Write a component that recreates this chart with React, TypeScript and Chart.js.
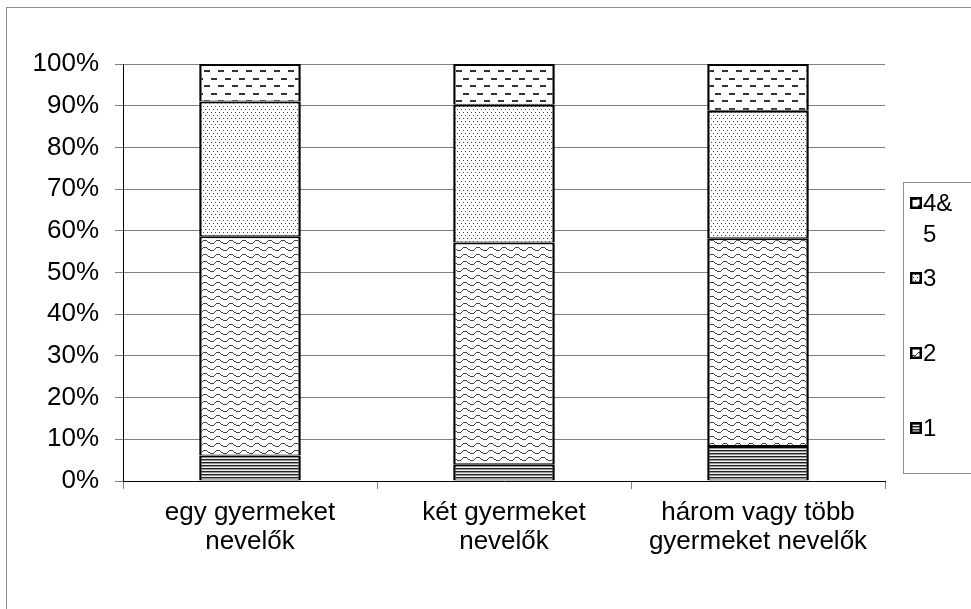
import React, { useEffect, useRef } from "react";
import { Chart, registerables } from "chart.js";
Chart.register(...registerables);

// ---- data ----
const categories: string[][] = [
  ["egy gyermeket", "nevelők"],
  ["két gyermeket", "nevelők"],
  ["három vagy több", "gyermeket nevelők"],
];
const seriesLabels = ["1", "2", "3", "4&5"];
const series1 = [6.1, 4.0, 8.4];
const series2 = [52.6, 53.2, 49.8];
const series3 = [32.3, 33.0, 30.6];
const series45 = [9.0, 9.8, 11.2];
const yMin = 0;
const yMax = 100;
const yStep = 10;

const FONT = '"Liberation Sans", Arial, sans-serif';

function makePattern(kind: string): CanvasPattern | string {
  const c = document.createElement("canvas");
  const g = c.getContext("2d");
  if (!g) return "#fff";
  if (kind === "lines") {
    c.width = 4; c.height = 3;
    g.fillStyle = "#eeeeee"; g.fillRect(0, 0, 4, 3);
    g.fillStyle = "#222222"; g.fillRect(0, 0, 4, 1);
    g.fillStyle = "#999999"; g.fillRect(0, 1, 4, 1);
  } else if (kind === "waves") {
    c.width = 13; c.height = 7;
    g.fillStyle = "#ffffff"; g.fillRect(0, 0, 13, 7);
    g.fillStyle = "#444444";
    for (let x = 0; x < 13; x++) {
      const y = 3.5 + 1.6 * Math.sin((2 * Math.PI * x) / 13);
      g.fillRect(x, Math.round(y), 1, 1);
    }
  } else if (kind === "dots") {
    c.width = 8; c.height = 6;
    g.fillStyle = "#ffffff"; g.fillRect(0, 0, 8, 6);
    g.fillStyle = "#444444";
    g.fillRect(1, 1, 1, 1);
    g.fillRect(5, 1, 1, 1);
    g.fillRect(3, 4, 1, 1);
    g.fillRect(7, 4, 1, 1);
  } else {
    c.width = 14; c.height = 15;
    g.fillStyle = "#ffffff"; g.fillRect(0, 0, 14, 15);
    g.fillStyle = "#333333";
    g.fillRect(1, 3, 6, 2);
    g.fillRect(8, 10, 6, 2);
  }
  const p = g.createPattern(c, "repeat");
  return p || "#fff";
}

function wrapText(ctx: CanvasRenderingContext2D, text: string, maxW: number): string[] {
  const lines: string[] = [];
  let cur = "";
  for (const ch of text) {
    if (cur && ctx.measureText(cur + ch).width > maxW) {
      lines.push(cur);
      cur = ch;
    } else cur += ch;
  }
  if (cur) lines.push(cur);
  return lines;
}

const framePlugin = {
  id: "frame",
  beforeDraw(chart: any) {
    const ctx = chart.ctx as CanvasRenderingContext2D;
    ctx.save();
    ctx.fillStyle = "#ffffff";
    ctx.fillRect(0, 0, chart.width, chart.height);
    ctx.strokeStyle = "#8c8c8c";
    ctx.lineWidth = 1;
    ctx.strokeRect(6.5, 7.5, chart.width + 50, chart.height + 50);
    ctx.restore();
  },
};

const legendPlugin = {
  id: "customLegend",
  afterDraw(chart: any) {
    const ctx = chart.ctx as CanvasRenderingContext2D;
    ctx.save();
    ctx.strokeStyle = "#8c8c8c";
    ctx.lineWidth = 1;
    ctx.strokeRect(903.5, 182.5, 200, 291);
    ctx.font = `24px ${FONT}`;
    ctx.textBaseline = "middle";
    ctx.textAlign = "left";
    const ds = chart.data.datasets;
    let y = 203;
    for (let i = ds.length - 1; i >= 0; i--) {
      const lines = wrapText(ctx, String(ds[i].label), 36);
      ctx.fillStyle = ds[i].backgroundColor;
      ctx.fillRect(910, y - 6, 12, 12);
      ctx.strokeStyle = "#000";
      ctx.lineWidth = 2.5;
      ctx.strokeRect(911.25, y - 4.75, 9.5, 9.5);
      ctx.fillStyle = "#000";
      lines.forEach((ln, j) => ctx.fillText(ln, 923, y + 1 + j * 31));
      y += 75;
    }
    ctx.restore();
  },
};

export default function App() {
  const ref = useRef<HTMLCanvasElement | null>(null);
  useEffect(() => {
    if (!ref.current) return;
    const patterns = [makePattern("lines"), makePattern("waves"), makePattern("dots"), makePattern("dashes")];
    const values = [series1, series2, series3, series45];
    const border = { top: 2, bottom: 1, left: 2.5, right: 2.5 };
    const chart = new Chart(ref.current, {
      type: "bar",
      data: {
        labels: categories,
        datasets: values.map((v, i) => ({
          label: seriesLabels[i],
          data: v,
          backgroundColor: patterns[i] as any,
          borderColor: "#000000",
          borderWidth: border as any,
          borderSkipped: false as any,
          categoryPercentage: 1,
          barPercentage: 0.4,
        })),
      },
      options: {
        animation: false,
        responsive: false,
        layout: { padding: { left: 0, right: 86, top: 64, bottom: 0 } },
        plugins: {
          legend: { display: false },
          tooltip: { enabled: false },
        },
        scales: {
          x: {
            stacked: true,
            afterFit: (s: any) => { s.height = 128; },
            grid: {
              display: true,
              drawOnChartArea: false,
              drawTicks: true,
              tickLength: 8,
              color: "#808080",
              offset: true,
            },
            border: { display: true, color: "#000000", width: 1 },
            ticks: {
              color: "#000000",
              padding: 10,
              font: { family: FONT, size: 26, lineHeight: 1.1 },
              maxRotation: 0,
              autoSkip: false,
            },
          },
          y: {
            stacked: true,
            min: yMin,
            max: yMax,
            afterFit: (s: any) => { s.width = 123; },
            grid: {
              color: "#808080",
              drawTicks: true,
              tickLength: 8,
            },
            border: { display: true, color: "#000000", width: 1 },
            ticks: {
              stepSize: yStep,
              color: "#000000",
              padding: 16,
              font: { family: FONT, size: 26 },
              callback: (v: any) => `${v}%`,
            },
          },
        },
      },
      plugins: [framePlugin, legendPlugin],
    });
    return () => chart.destroy();
  }, []);
  return (
    <div style={{ position: "absolute", left: 0, top: 0, width: 971, height: 609 }}>
      <canvas ref={ref} width={971} height={609} style={{ display: "block" }} />
    </div>
  );
}
